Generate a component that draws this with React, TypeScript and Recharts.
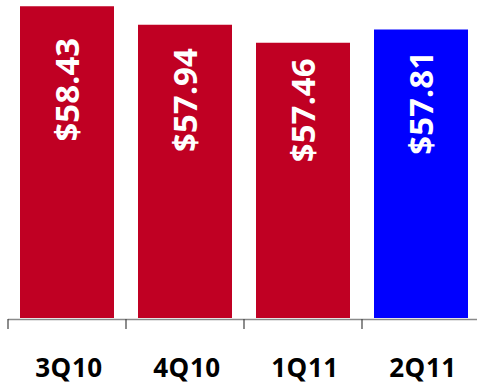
import React from "react";
import { BarChart, Bar, XAxis, YAxis, Cell, LabelList } from "recharts";

const quarters = ["3Q10", "4Q10", "1Q11", "2Q11"];
const prices = [58.43, 57.94, 57.46, 57.81];
const barColors = ["#C00023", "#C00023", "#C00023", "#0000FF"];

const data = quarters.map((q, i) => ({ q, price: prices[i] }));

const CHART_W = 477;
const LEFT = 8;
const BAND = 118;
const HALF_BAND = BAND / 2;

const QuarterTick = (props: any) => {
  const { x, y, payload, index } = props;
  const left = x - HALF_BAND;
  return (
    <g>
      {index === 0 && (
        <line x1={left} x2={CHART_W} y1={y + 1.5} y2={y + 1.5} stroke="#8a8a8a" strokeWidth={1.5} />
      )}
      <line x1={left} x2={left} y1={y + 1} y2={y + 11} stroke="#404040" strokeWidth={1.2} />
      <text
        x={x + 2}
        y={y + 59}
        textAnchor="middle"
        fill="#000"
        fontFamily="'Open Sans', sans-serif"
        fontWeight="bold"
        fontSize={26}
        letterSpacing={0.6}
      >
        {payload.value}
      </text>
    </g>
  );
};

const PriceLabel = (props: any) => {
  const { x, y, width, value } = props;
  const cx = x + width / 2;
  const cy = 86 + 0.57 * y;
  return (
    <text
      x={cx}
      y={cy}
      transform={`rotate(-90 ${cx} ${cy})`}
      textAnchor="middle"
      dominantBaseline="central"
      fill="#fff"
      fontFamily="'Open Sans', sans-serif"
      fontWeight="bold"
      fontSize={33}
    >
      {`$${value.toFixed(2)}`}
    </text>
  );
};

export default function App() {
  return (
    <div style={{ position: "absolute", left: 0, top: 0, width: CHART_W, height: 385, background: "#fff" }}>
      <BarChart
        width={CHART_W}
        height={385}
        data={data}
        margin={{ top: 0, right: CHART_W - LEFT - BAND * quarters.length, left: LEFT, bottom: 0 }}
      >
        <YAxis hide domain={[50.1, 58.6]} allowDataOverflow />
        <Bar dataKey="price" barSize={94} isAnimationActive={false}>
          {data.map((d, i) => (
            <Cell key={d.q} fill={barColors[i]} />
          ))}
          <LabelList dataKey="price" content={<PriceLabel />} />
        </Bar>
        <XAxis
          dataKey="q"
          height={67}
          axisLine={false}
          tickLine={false}
          tickSize={0}
          tickMargin={0}
          interval={0}
          tick={<QuarterTick />}
        />
      </BarChart>
    </div>
  );
}
